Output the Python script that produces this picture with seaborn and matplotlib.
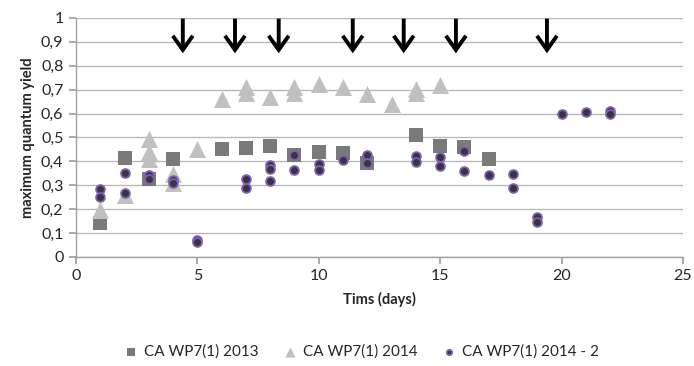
import matplotlib
matplotlib.use("Agg")
import matplotlib.pyplot as plt
import seaborn as sns
import pandas as pd
from matplotlib.ticker import FuncFormatter

# ---- data ----
days_2013 = [1, 2, 3, 4, 6, 7, 8, 9, 10, 11, 12, 14, 15, 16, 17]
yield_2013 = [0.14, 0.415, 0.325, 0.41, 0.45, 0.455, 0.465, 0.428, 0.44, 0.435, 0.395, 0.512, 0.465, 0.458, 0.41]

days_2014 = [1, 2, 3, 3, 3, 4, 4, 5, 6, 7, 7, 8, 9, 9, 10, 11, 12, 13, 14, 14, 15]
yield_2014 = [0.198, 0.26, 0.495, 0.44, 0.41, 0.345, 0.31, 0.45, 0.662, 0.71, 0.688, 0.67, 0.71, 0.688, 0.725, 0.711, 0.68, 0.64, 0.703, 0.684, 0.72]

days_2014b = [1, 1, 2, 2, 3, 3, 4, 4, 5, 5, 7, 7, 8, 8, 8, 9, 9, 10, 10, 11, 12, 12,
              14, 14, 15, 15, 16, 16, 17, 18, 18, 19, 19, 20, 21, 22, 22]
yield_2014b = [0.285, 0.25, 0.353, 0.268, 0.343, 0.324, 0.323, 0.308, 0.07, 0.064, 0.328, 0.289,
               0.386, 0.366, 0.318, 0.428, 0.363, 0.389, 0.365, 0.404, 0.425, 0.394,
               0.421, 0.398, 0.418, 0.382, 0.445, 0.358, 0.342, 0.349, 0.287, 0.166, 0.146,
               0.596, 0.605, 0.611, 0.6]

series_names = ["CA WP7(1) 2013", "CA WP7(1) 2014", "CA WP7(1) 2014 - 2"]
arrow_days = [4.4, 6.55, 8.35, 11.4, 13.5, 15.65, 19.4]

x_ticks = [0, 5, 10, 15, 20, 25]
y_ticks = [0, 0.1, 0.2, 0.3, 0.4, 0.5, 0.6, 0.7, 0.8, 0.9, 1]

# ---- plot ----
sns.set_theme(style="white")
plt.rcParams['font.family'] = ['Lato', 'DejaVu Sans']

fig = plt.figure(figsize=(6.94, 3.66), dpi=100)
ax = fig.add_axes([0.1095, 0.298, 0.8745, 0.653])

df13 = pd.DataFrame({"day": days_2013, "y": yield_2013})
df14 = pd.DataFrame({"day": days_2014, "y": yield_2014})
df14b = pd.DataFrame({"day": days_2014b, "y": yield_2014b})

sns.scatterplot(data=df13, x="day", y="y", ax=ax, marker="s", s=110, color="#7a7a7a",
                edgecolor="#7a7a7a", linewidth=0, label=series_names[0], zorder=3)
sns.scatterplot(data=df14, x="day", y="y", ax=ax, marker="^", s=150, color="#c0c0c0",
                edgecolor="#c0c0c0", linewidth=0, label=series_names[1], zorder=3)
sns.scatterplot(data=df14b, x="day", y="y", ax=ax, marker="o", s=40, color="#3a3340",
                edgecolor="#7d5fb0", linewidth=1.3, label=series_names[2], zorder=4)

for d in arrow_days:
    ax.annotate("", xy=(d, 0.852), xytext=(d, 0.997),
                arrowprops=dict(arrowstyle="->,head_length=0.85,head_width=0.6",
                                color="black", lw=2.8, shrinkA=0, shrinkB=0,
                                joinstyle="miter", capstyle="butt"),
                zorder=5, annotation_clip=False)

ax.set_xlim(0, 25)
ax.set_ylim(0, 1)
ax.set_xticks(x_ticks)
ax.set_yticks(y_ticks)
fmt = FuncFormatter(lambda v, p: ("%g" % round(v, 1)).replace(".", ","))
ax.yaxis.set_major_formatter(fmt)
ax.xaxis.set_major_formatter(fmt)
ax.grid(axis="y", color="#b8b8b8", lw=1)
ax.set_axisbelow(True)
for s in ["top", "right"]:
    ax.spines[s].set_visible(False)
for s in ["left", "bottom"]:
    ax.spines[s].set_color("#a0a0a0")
    ax.spines[s].set_linewidth(1)
ax.tick_params(axis="both", which="major", direction="out", length=5, color="#a0a0a0",
               labelsize=11.5, labelcolor="#262626", left=True, bottom=True, pad=4)
ax.set_xlabel("Tims (days)", fontsize=10.5, fontweight="bold", labelpad=6)
ax.set_ylabel("maximum quantum yield", fontsize=10.5, fontweight="bold", labelpad=4)

ax.get_legend().remove()
handles, labels = ax.get_legend_handles_labels()
fig.legend(handles, labels, loc="center", bbox_to_anchor=(0.515, 0.04), ncol=3, frameon=False,
           fontsize=11, handletextpad=-0.1, columnspacing=1.0, markerscale=0.6)

fig.savefig("out.png", dpi=100)
